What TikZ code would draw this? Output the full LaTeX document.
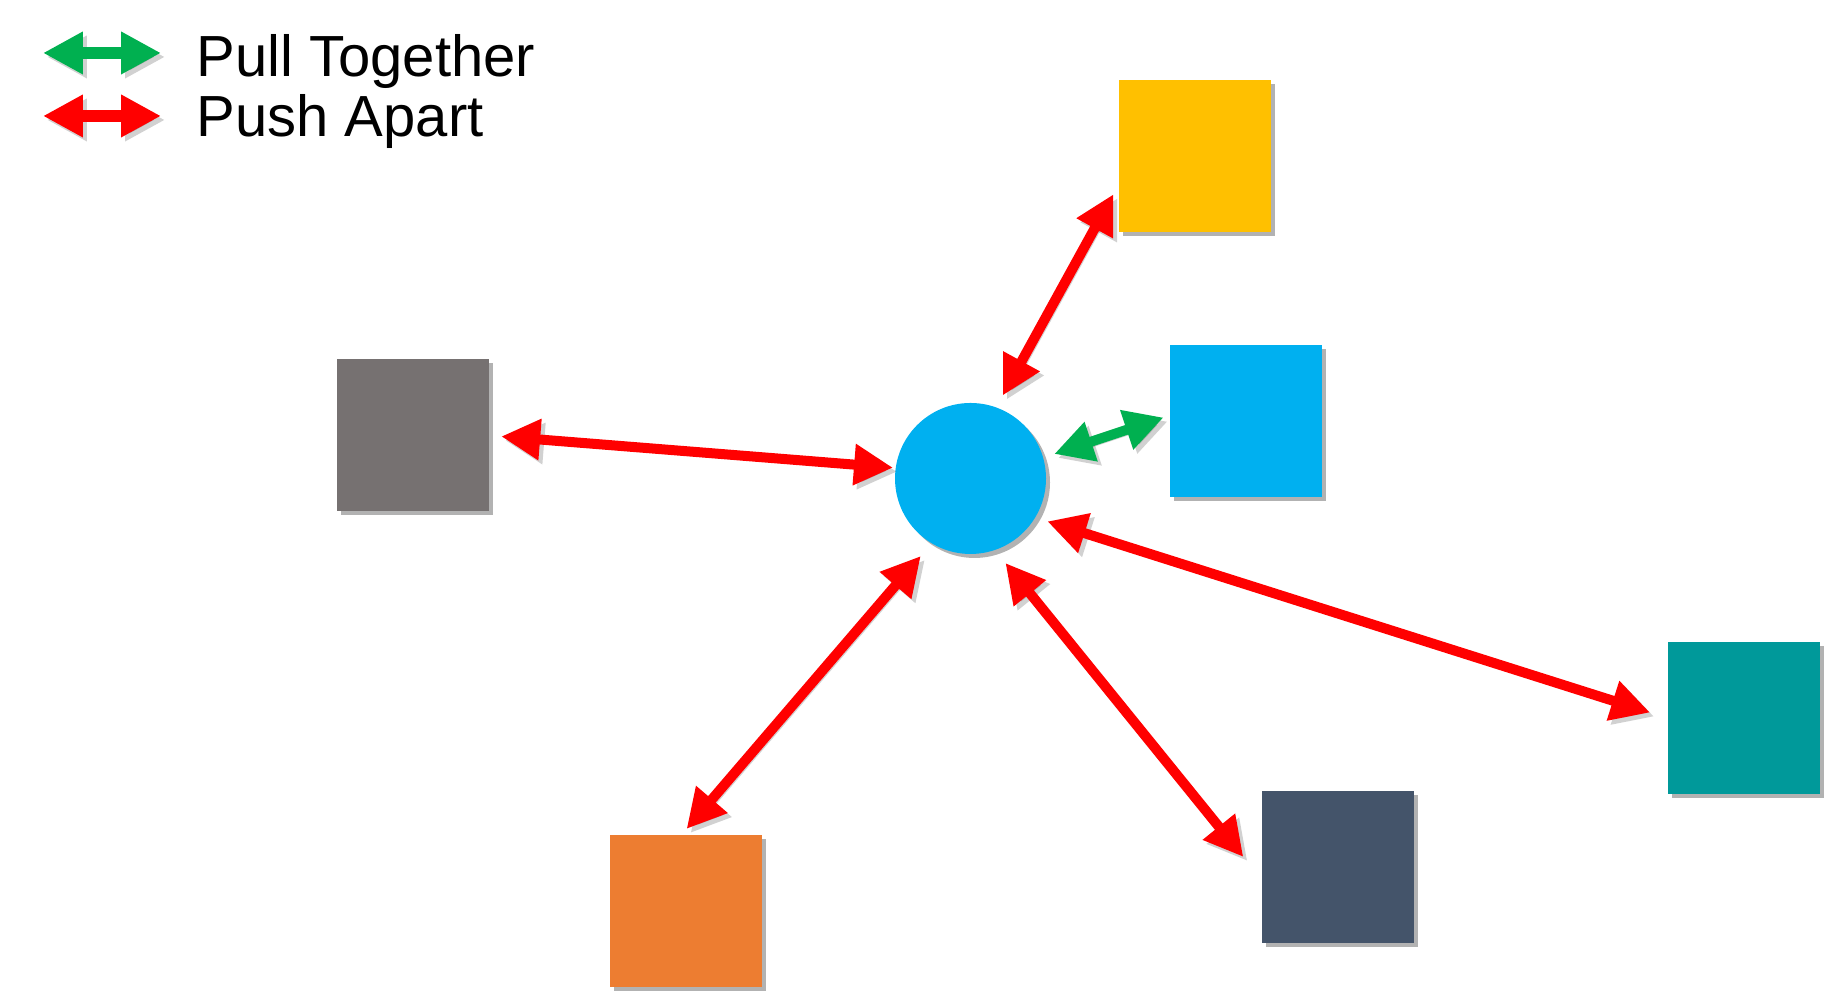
\documentclass[tikz,border=0pt]{standalone}
\usepackage{fontspec}
\setmainfont{Liberation Sans}
\usepackage{xcolor}
\usetikzlibrary{arrows.meta, positioning, shadows}
\definecolor{pullgreen}{RGB}{0,176,80}
\definecolor{pushred}{RGB}{255,0,0}
\definecolor{skyblue}{RGB}{0,176,240}
\definecolor{goldyellow}{RGB}{255,192,0}
\definecolor{stonegray}{RGB}{118,113,113}
\definecolor{burntorange}{RGB}{237,125,49}
\definecolor{slatenavy}{RGB}{68,84,106}
\definecolor{deepteal}{RGB}{0,153,154}
\tikzset{
  sample/.style={
    rectangle, minimum size=1.52cm, inner sep=0pt, draw=none,
    drop shadow={shadow xshift=0.04cm, shadow yshift=-0.04cm, opacity=0.3, fill=black}
  },
  anchorpt/.style={
    circle, minimum size=1.51cm, inner sep=0pt, draw=none, fill=skyblue,
    drop shadow={shadow xshift=0.04cm, shadow yshift=-0.04cm, opacity=0.3, fill=black}
  },
  arrowshade/.style={
    preaction={draw=black, opacity=0.18,
      transform canvas={xshift=0.04cm, yshift=-0.04cm}}
  },
  pusharrow/.style={{Triangle[length=0.39cm, width=0.39cm]}-{Triangle[length=0.39cm, width=0.39cm]},
    line width=0.1cm, color=pushred, arrowshade},
  pullarrow/.style={{Triangle[length=0.39cm, width=0.39cm]}-{Triangle[length=0.39cm, width=0.39cm]},
    line width=0.1cm, color=pullgreen, arrowshade},
  legendarrow/.style={{Triangle[length=0.4cm, width=0.4cm]}-{Triangle[length=0.4cm, width=0.4cm]},
    line width=0.12cm, arrowshade},
  legendtext/.style={anchor=base west, inner sep=0pt,
    font=\fontsize{16.5pt}{19pt}\selectfont}
}

\begin{document}
\begin{tikzpicture}
  \useasboundingbox (0,0) rectangle (18.33,10);

  % legend
  \coordinate (pullL) at (0.43,9.47);
  \coordinate (pullR) at (1.61,9.47);
  \coordinate (pushL) at (0.43,8.84);
  \coordinate (pushR) at (1.61,8.84);
  \draw[legendarrow, color=pullgreen] (pullL) -- (pullR);
  \draw[legendarrow, color=pushred] (pushL) -- (pushR);
  \node[legendtext] (pulltxt) at (1.96,9.23) {Pull Together};
  \node[legendtext] (pushtxt) at (1.96,8.63) {Push Apart};

  % anchor and samples
  \node[anchorpt] (anc) at (9.705,5.215) {};
  \node[sample, fill=goldyellow]  (negyellow) at (11.95,8.44) {};
  \node[sample, fill=skyblue]     (pos)       at (12.46,5.79) {};
  \node[sample, fill=stonegray]   (neggray)   at (4.125,5.645) {};
  \node[sample, fill=burntorange] (negorange) at (6.86,0.89) {};
  \node[sample, fill=slatenavy]   (negnavy)   at (13.38,1.33) {};
  \node[sample, fill=deepteal]    (negteal)   at (17.44,2.82) {};

  % pull / push
  \draw[pullarrow, shorten <=0.11cm, shorten >=0.06cm] (anc.16) -- (pos.176);
  \draw[pusharrow, shorten <=0.13cm, shorten >=0.10cm] (anc.70) -- (negyellow.201);
  \draw[pusharrow, shorten <=0.02cm, shorten >=0.12cm] (anc.172) -- (neggray.east);
  \draw[pusharrow, shorten <=0.16cm, shorten >=0.07cm] (anc.-121.5) -- (negorange.93);
  \draw[pusharrow, shorten <=0.16cm, shorten >=0.285cm] (anc.-71) -- (negnavy.189);
  \draw[pusharrow, shorten <=0.12cm, shorten >=0.18cm] (anc.-31) -- (negteal.west);
\end{tikzpicture}
\end{document}
